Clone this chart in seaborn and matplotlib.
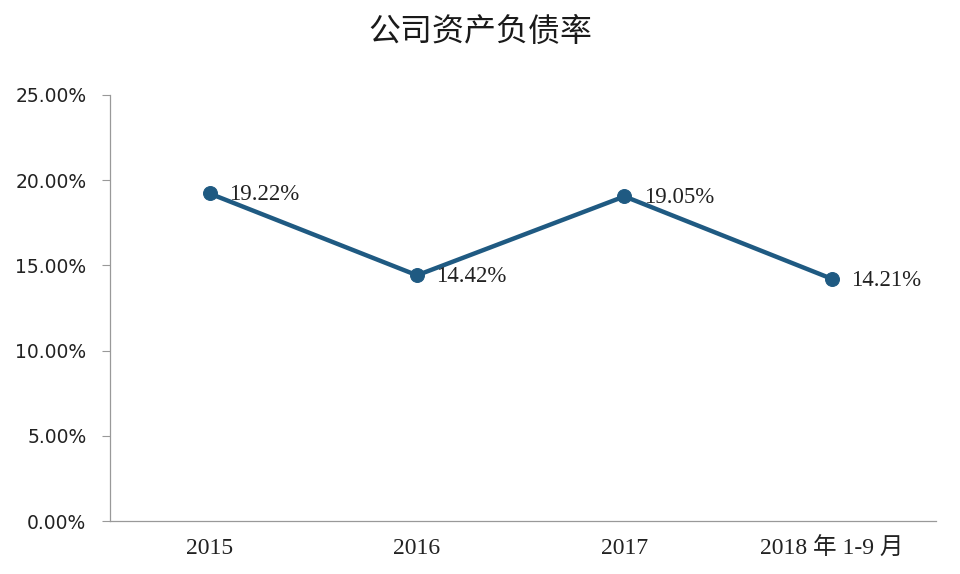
import pandas as pd
import matplotlib
matplotlib.use("Agg")
import matplotlib.pyplot as plt
from matplotlib.ticker import FuncFormatter

import seaborn as sns

# data
periods = ["2015", "2016", "2017", "2018 年 1-9 月"]
debt_ratio = [19.22, 14.42, 19.05, 14.21]
y_ticks = [0, 5, 10, 15, 20, 25]

line_color = "#1f5a82"
serif = ["Liberation Serif", "Noto Sans CJK SC"]

sns.set_style("white")
plt.rcParams['font.family'] = ['DejaVu Sans', 'Noto Sans CJK SC']

df = pd.DataFrame({"period": periods, "ratio": debt_ratio, "x": range(len(periods))})

fig = plt.figure(figsize=(9.6, 5.74), dpi=100)
ax = fig.add_axes([0.1146, 0.0923, 0.86, 0.7422])

sns.lineplot(data=df, x="x", y="ratio", ax=ax, color=line_color, linewidth=3.2,
             marker="o", markersize=10, markeredgecolor=line_color)

for xi, val in zip(df["x"], df["ratio"]):
    ax.annotate(f"{val:.2f}%", (xi, val), xytext=(14, -1), textcoords="offset points",
                ha="left", va="center", fontsize=16.5, family=serif, color="#222222")

ax.set_xlim(-0.48, 3.5)
ax.set_ylim(0, 25)
ax.set_yticks(y_ticks)
ax.yaxis.set_major_formatter(FuncFormatter(lambda v, p: f"{v:.2f}%"))
ax.set_xticks(df["x"])
ax.set_xticklabels(periods, fontsize=17, family=serif, color="#222222")
ax.tick_params(axis="y", labelsize=13.5, labelcolor="#222222", length=6, width=0.8,
               color="#999999", direction="out", left=True, pad=11)
ax.tick_params(axis="x", length=0, pad=12)
ax.set_xlabel("")
ax.set_ylabel("")

for side in ["top", "right"]:
    ax.spines[side].set_visible(False)
for side in ["left", "bottom"]:
    ax.spines[side].set_color("#999999")
    ax.spines[side].set_linewidth(0.9)

fig.text(0.5, 0.945, "公司资产负债率", ha="center", va="center", fontsize=23,
         family=["Noto Sans CJK SC", "DejaVu Sans"], color="#1a1a1a")

fig.savefig("out.png", dpi=100)
